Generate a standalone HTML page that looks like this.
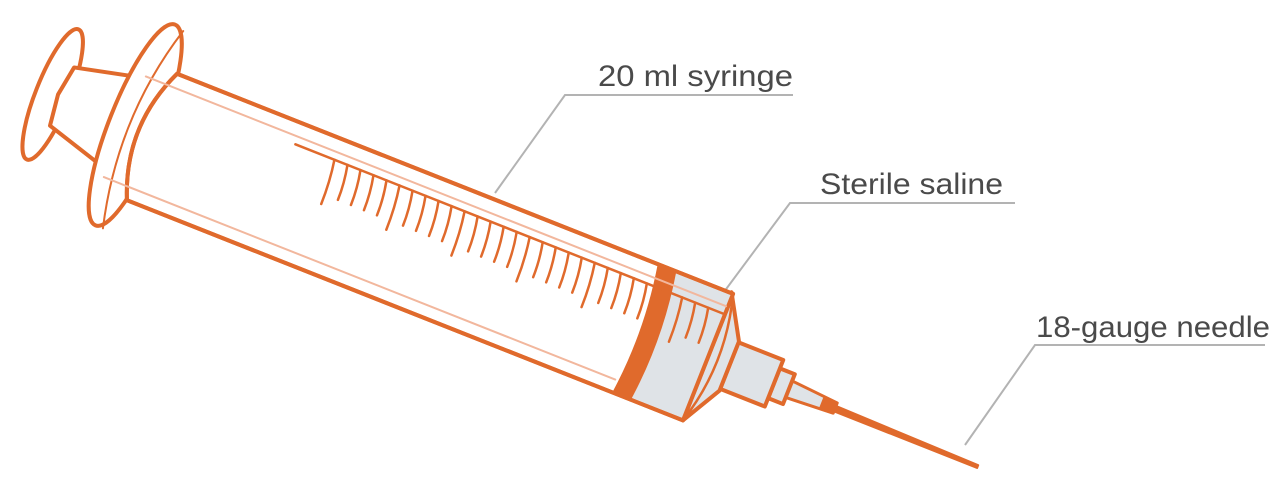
<!DOCTYPE html>
<html><head><meta charset="utf-8"><style>
html,body{margin:0;padding:0;background:#fff;width:1286px;height:493px;overflow:hidden}
svg{display:block}
text{font-family:"Liberation Sans",sans-serif;fill:#4a4a4a;font-size:30px}
</style></head><body>
<svg width="1286" height="493" viewBox="0 0 1286 493" xmlns="http://www.w3.org/2000/svg">
<g fill="none" stroke="#b3b3b3" stroke-width="2">
<polyline points="495,193 565,95 793,95"/>
<polyline points="718,300 790,203 1015,203"/>
<polyline points="965,445 1035,345 1265,345"/>
</g>
<text x="598" y="86" textLength="195" lengthAdjust="spacingAndGlyphs">20 ml syringe</text>
<text x="820" y="194" textLength="183" lengthAdjust="spacingAndGlyphs">Sterile saline</text>
<text x="1036" y="337" textLength="234" lengthAdjust="spacingAndGlyphs">18-gauge needle</text>

<g transform="translate(152,137) rotate(21.6)" stroke="#e06a2c" stroke-width="4" stroke-linejoin="round" stroke-linecap="round" fill="none">
  <ellipse cx="-108" cy="-3" rx="17" ry="70" fill="#fff"/>
  <polygon points="-98,-36 -38,-50 -38,45 -99,27 -103,-5" fill="#fff"/>
  <ellipse cx="-20" cy="-5" rx="26" ry="108" fill="#fff"/>
  <path d="M-10,-110 Q-40,-5 -12,103" stroke-width="2" fill="none"/>
  <polygon points="720,-2 889,1 889,4 720,4" fill="#e06a2c" stroke-width="2"/>
  <polygon points="683,-9 735,-5 735,6 683,9" fill="#dfe3e7" stroke-width="3"/>
  <polygon points="720,-6 735,-6 735,6 720,6" fill="#e06a2c" stroke="none"/>
  <polygon points="669,-16 685,-16 685,16 669,16" fill="#dfe3e7"/>
  <polygon points="621,-25 669,-25 669,25 621,25" fill="#dfe3e7"/>
  <polygon points="596,-69 621,-26 621,27 598,68" fill="#dfe3e7"/>
  <path d="M0,-68 L598,-68 L598,68 L0,68 Q-30,0 0,-68 Z" fill="#fff"/>
  <path d="M533,-66 L598,-66 L598,66 L540,66 Q548,0 533,-66 Z" fill="#dfe3e7" stroke="none"/>
  <path d="M0,-68 L598,-68 L598,68 L0,68 Q-30,0 0,-68 Z" fill="none"/>
  <path d="M598,-68 Q618,0 598,68" stroke-width="2.5" fill="none"/>
  <path d="M517,-68 L537,-68 Q550,0 542,68 L522,68 Q530,0 517,-68 Z" fill="#e06a2c" stroke="none"/>
  <line x1="-28" y1="-54" x2="596" y2="-54" stroke="#f2b79d" stroke-width="2"/>
  <line x1="-30" y1="55" x2="520" y2="55" stroke="#f2b79d" stroke-width="2"/>
  <line x1="136" y1="-46" x2="596" y2="-46" stroke-width="2.5"/>
  <g stroke-width="2.5" fill="none">
    <path d="M178,-46 q4,22 4,46"/>
    <path d="M192,-46 q4,18 4,36"/>
    <path d="M206,-46 q4,18 4,36"/>
    <path d="M220,-46 q4,18 4,36"/>
    <path d="M234,-46 q4,18 4,36"/>
    <path d="M248,-46 q4,22 4,46"/>
    <path d="M262,-46 q4,18 4,36"/>
    <path d="M276,-46 q4,18 4,36"/>
    <path d="M290,-46 q4,18 4,36"/>
    <path d="M304,-46 q4,18 4,36"/>
    <path d="M318,-46 q4,22 4,46"/>
    <path d="M332,-46 q4,18 4,36"/>
    <path d="M346,-46 q4,18 4,36"/>
    <path d="M360,-46 q4,18 4,36"/>
    <path d="M374,-46 q4,18 4,36"/>
    <path d="M388,-46 q4,22 4,46"/>
    <path d="M402,-46 q4,18 4,36"/>
    <path d="M416,-46 q4,18 4,36"/>
    <path d="M430,-46 q4,18 4,36"/>
    <path d="M444,-46 q4,18 4,36"/>
    <path d="M458,-46 q4,22 4,46"/>
    <path d="M472,-46 q4,18 4,36"/>
    <path d="M486,-46 q4,18 4,36"/>
    <path d="M500,-46 q4,18 4,36"/>
    <path d="M514,-46 q4,18 4,36"/>
    <path d="M552,-46 q4,22 4,46"/>
    <path d="M566,-46 q4,18 4,36"/>
    <path d="M580,-46 q4,18 4,36"/>
  </g>
</g>
</svg>
</body></html>
